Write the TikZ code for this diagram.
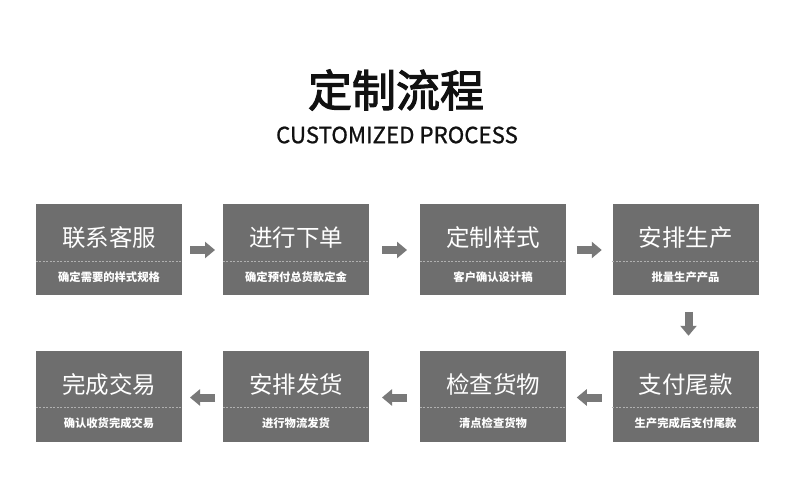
\documentclass[tikz,border=0pt]{standalone}
\usepackage{fontspec}
\setmainfont{Noto Sans CJK SC}
\newfontfamily\titlefont[FakeBold=2.6]{Noto Sans CJK SC}
\newfontfamily\subtitlefont[FakeBold=0.9]{Noto Sans CJK SC}
\usetikzlibrary{calc,arrows.meta}
\definecolor{boxgray}{HTML}{6E6E6E}
\definecolor{arrowgray}{HTML}{797979}
\definecolor{dashgray}{HTML}{B0B0B0}
\definecolor{titleblack}{HTML}{111111}
\tikzset{
  stepbox/.style={fill=boxgray, draw=none, minimum width=146pt, minimum height=91pt, inner sep=0pt},
  maintext/.style={text=white, font=\fontsize{23.5}{26}\selectfont, inner sep=0pt},
  subtext/.style={text=white, font=\bfseries\fontsize{11.3}{13}\selectfont, inner sep=0pt},
  dashline/.style={draw=dashgray, line width=0.8pt, dash pattern=on 2pt off 1.5pt},
  flowarrow/.style={draw=arrowgray, line width=8pt, -{Triangle[width=16pt,length=10pt]}}
}
\begin{document}
\begin{tikzpicture}[x=1pt,y=-1pt]
\useasboundingbox (0,0) rectangle (790,489);
\fill[white] (0,0) rectangle (790,489);
% title
\node[text=titleblack, font=\titlefont\fontsize{44}{48}\selectfont, inner sep=0pt] (title) at (396,90) {定制流程};
\node[text=titleblack, font=\subtitlefont\fontsize{22.3}{25}\selectfont, inner sep=0pt] (subtitle) at (397,135) {CUSTOMIZED PROCESS};
% boxes
\foreach \name/\x/\y/\main/\sub in {
  b1/109/249.5/联系客服/确定需要的样式规格,
  b2/296/249.5/进行下单/确定预付总货款定金,
  b3/493/249.5/定制样式/客户确认设计稿,
  b4/685.5/249.5/安排生产/批量生产产品,
  b5/685.5/396/支付尾款/生产完成后支付尾款,
  b6/493/396/检查货物/清点检查货物,
  b7/296/396/安排发货/进行物流发货,
  b8/109/396/完成交易/确认收货完成交易}{
  \node[stepbox] (\name) at (\x,\y) {};
  \node[maintext] (\name m) at ($(\name.north)+(0,34)$) {\main};
  \node[subtext] (\name s) at ($(\name.north)+(0,73)$) {\sub};
  \draw[dashline] ($(\name.west)+(0,11.5)$) -- ($(\name.east)+(0,11.5)$);
}
% arrows
\foreach \a/\b in {b1/b2,b2/b3,b3/b4}{
  \draw[flowarrow] ($(\a.east)!0.5!(\b.west)+(-12.5,0.5)$) -- ($(\a.east)!0.5!(\b.west)+(12.5,0.5)$);
}
\foreach \a/\b in {b5/b6,b6/b7,b7/b8}{
  \draw[flowarrow] ($(\a.west)!0.5!(\b.east)+(12.5,1.5)$) -- ($(\a.west)!0.5!(\b.east)+(-12.5,1.5)$);
}
\draw[flowarrow] ($(b4.south)!0.5!(b5.north)+(3,-11)$) -- ($(b4.south)!0.5!(b5.north)+(3,13)$);
\end{tikzpicture}
\end{document}
